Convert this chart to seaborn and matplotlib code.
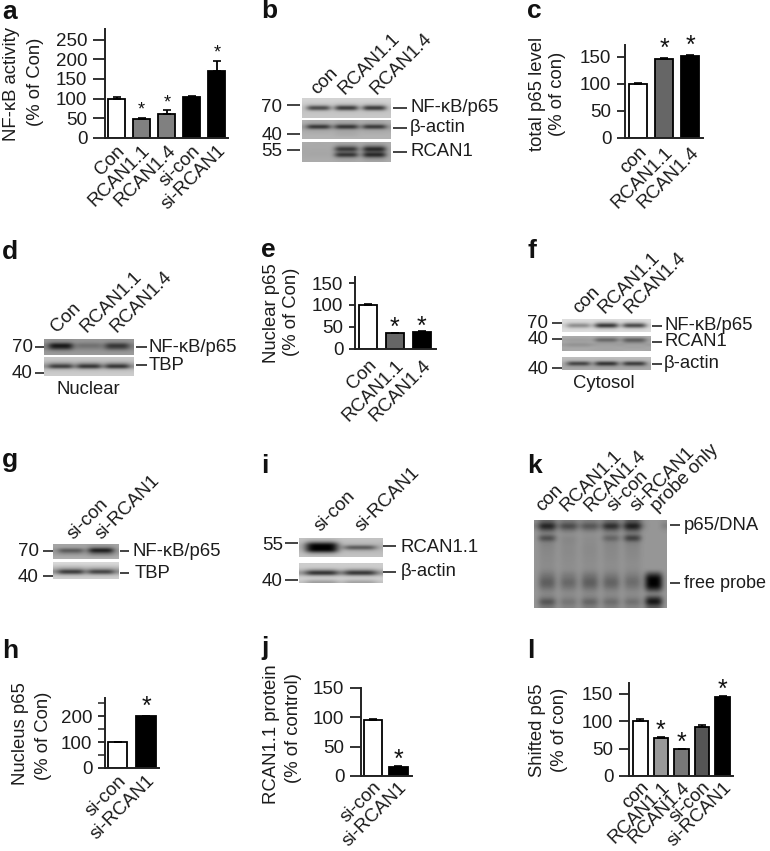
import matplotlib
matplotlib.use("Agg")
import matplotlib.pyplot as plt
import numpy as np
import pandas as pd
import seaborn as sns

W, H = 770, 851
TXT = "#1c1c1c"

# bar data
A_LABELS = ["Con", "RCAN1.1", "RCAN1.4", "si-con", "si-RCAN1"]
A_VALUES = [100, 49, 62, 105, 170]
A_ERR = [4, 2, 8, 1, 26]
A_COLORS = ["white", "#808080", "#808080", "black", "black"]
A_STARS = [1, 2, 4]

C_LABELS = ["con", "RCAN1.1", "RCAN1.4"]
C_VALUES = [100, 147, 152]
C_ERR = [2, 1, 2]
C_COLORS = ["white", "#666666", "black"]
C_STARS = [1, 2]

E_LABELS = ["Con", "RCAN1.1", "RCAN1.4"]
E_VALUES = [100, 35, 38]
E_ERR = [1, 1, 1]
E_COLORS = ["white", "#666666", "black"]
E_STARS = [1, 2]

H_LABELS = ["si-con", "si-RCAN1"]
H_VALUES = [100, 200]
H_ERR = [0, 1]
H_COLORS = ["white", "black"]
H_STARS = [1]

J_LABELS = ["si-con", "si-RCAN1"]
J_VALUES = [96, 16]
J_ERR = [2, 1]
J_COLORS = ["white", "black"]
J_STARS = [1]

L_LABELS = ["con", "RCAN1.1", "RCAN1.4", "si-con", "si-RCAN1"]
L_VALUES = [100, 69, 49, 90, 144]
L_ERR = [5, 3, 1, 3, 3]
L_COLORS = ["white", "#999999", "#777777", "#555555", "black"]
L_STARS = [1, 2, 4]

# blot strips: each row is [background, lane 1, lane 2, ...] in grey levels
B_P65 = [[212, 212, 212, 212], [208, 207, 207, 207], [200, 185, 175, 175], [196, 25, 5, 5],
         [196, 190, 185, 185], [198, 198, 198, 198], [200, 200, 200, 200]]
B_ACTIN = [[178, 172, 170, 172], [168, 155, 150, 155], [150, 10, 10, 15], [165, 160, 155, 160],
           [175, 172, 168, 172], [178, 178, 170, 178], [180, 180, 180, 180]]
B_RCAN = [[172, 170, 168, 168], [170, 170, 130, 120], [168, 168, 25, 10], [168, 167, 125, 105],
          [168, 166, 15, 5], [170, 170, 150, 135], [172, 172, 168, 165]]
D_P65 = [[150, 145, 150, 148], [148, 135, 145, 140], [125, 5, 105, 40], [130, 45, 125, 70],
         [148, 140, 148, 142], [155, 155, 155, 155]]
D_TBP = [[200, 200, 200, 200], [192, 190, 190, 190], [170, 140, 135, 135], [135, 20, 10, 10],
         [188, 185, 180, 180], [200, 200, 200, 200], [205, 205, 205, 205]]
F_P65 = [[222, 222, 222, 222], [218, 205, 175, 185], [205, 115, 5, 25], [218, 205, 180, 190],
         [222, 222, 222, 222]]
F_RCAN = [[175, 172, 168, 172], [160, 155, 80, 70], [170, 165, 150, 130], [150, 140, 160, 165],
          [170, 165, 165, 160], [165, 170, 165, 170]]
F_ACTIN = [[190, 190, 190, 190], [182, 178, 175, 178], [170, 25, 5, 15], [165, 155, 145, 150],
           [170, 170, 170, 170]]
G_P65 = [[165, 165, 160], [162, 158, 120], [150, 70, 0], [155, 125, 90], [165, 162, 145],
         [175, 175, 175]]
G_TBP = [[218, 218, 218], [200, 195, 198], [170, 150, 155], [130, 15, 25], [188, 178, 182],
         [208, 208, 208]]
I_RCAN = [[195, 190, 195], [190, 130, 190], [180, 0, 175], [175, 0, 55], [185, 0, 170],
          [190, 140, 190], [195, 192, 195]]
I_ACTIN = [[205, 205, 205], [205, 205, 205], [185, 150, 150], [140, 0, 5], [195, 185, 185],
           [215, 215, 215], [195, 155, 160]]
K_GEL = [[140, 100, 120, 125, 110, 90, 150],
         [120, 10, 55, 70, 20, 5, 150],
         [145, 90, 115, 120, 100, 85, 150],
         [150, 140, 145, 145, 140, 135, 150],
         [150, 55, 135, 140, 85, 35, 150],
         [150, 128, 135, 140, 132, 125, 150],
         [150, 133, 138, 138, 135, 133, 150],
         [150, 135, 138, 138, 136, 135, 150],
         [150, 136, 138, 138, 137, 136, 150],
         [150, 138, 140, 140, 138, 138, 150],
         [150, 138, 140, 140, 140, 140, 150],
         [150, 140, 142, 142, 141, 141, 150],
         [150, 135, 140, 138, 138, 138, 150],
         [150, 120, 125, 120, 125, 128, 70],
         [150, 105, 115, 105, 110, 115, 0],
         [150, 90, 100, 90, 95, 105, 0],
         [150, 100, 110, 100, 105, 115, 0],
         [150, 125, 130, 125, 128, 132, 70],
         [150, 138, 140, 138, 138, 140, 145],
         [150, 120, 132, 125, 128, 130, 60],
         [150, 70, 110, 90, 100, 105, 0],
         [150, 120, 132, 125, 128, 132, 90]]

sns.set_theme(style="white")
plt.rcParams["font.family"] = ["Liberation Sans", "DejaVu Sans"]
plt.rcParams["text.color"] = TXT

fig = plt.figure(figsize=(W / 100, H / 100), dpi=100)
fig.patch.set_facecolor("white")


def px_axes(x0, y0, x1, y1, **kw):
    return fig.add_axes([x0 / W, 1 - y1 / H, (x1 - x0) / W, (y1 - y0) / H], **kw)


over = px_axes(0, 0, W, H, zorder=10)
over.set_xlim(0, W)
over.set_ylim(H, 0)
over.axis("off")
over.patch.set_alpha(0)


def label(x, y, s, size=13.3, ha="left", rot=0):
    over.text(x, y, s, fontsize=size, ha=ha, va="center", rotation=rot, color=TXT)


def letter(x, y, s):
    over.text(x, y, s, fontsize=19, fontweight="bold", ha="left", va="baseline", color="#111111")


def dash(x0, x1, y):
    over.plot([x0, x1], [y, y], color="#222222", lw=1.2, solid_capstyle="butt")


def lanes(xs, y, names):
    for x, name in zip(xs, names):
        over.text(x, y, name, fontsize=13.5, rotation=45, rotation_mode="anchor",
                  ha="left", va="baseline", color=TXT)


def bars(box, ymax, xlim, labels, values, errs, colors, stars, yticks, star_gap, star_size=18,
         width=0.69, tick_len=8, minor=None, pad=3):
    ax = px_axes(*box)
    df = pd.DataFrame({"name": labels, "value": values})
    sns.barplot(data=df, x="name", y="value", hue="name", palette=colors, legend=False, ax=ax,
                order=labels, hue_order=labels, width=width, saturation=1, edgecolor="black",
                linewidth=1.3)
    pos = np.arange(len(labels))
    ax.errorbar(pos, values, yerr=[np.zeros(len(errs)), errs], fmt="none", ecolor="black",
                elinewidth=1.3, capsize=2.6, capthick=1.2)
    for i in stars:
        ax.annotate("*", xy=(i, values[i] + errs[i]), xytext=(0, star_gap), textcoords="offset points",
                    ha="center", va="center", fontsize=star_size, color="#111111")
    ax.set_xlim(*xlim)
    ax.set_ylim(0, ymax)
    ax.set_yticks(yticks)
    ax.set_xlabel("")
    ax.set_ylabel("")
    ax.patch.set_alpha(0)
    sns.despine(ax=ax)
    for side in ("left", "bottom"):
        ax.spines[side].set_linewidth(1.4)
        ax.spines[side].set_color("#222222")
    ax.set_xticks(pos, labels, rotation=45, ha="right", rotation_mode="anchor", fontsize=13.5, color=TXT)
    for tick in ax.get_xticklabels():
        tick.set_x(tick.get_position()[0])
    ax.tick_params(axis="x", length=0, pad=pad)
    ax.tick_params(axis="y", left=True, length=tick_len * 0.72, width=1.3, pad=4, labelsize=13.5,
                   color="#222222", labelcolor=TXT)
    if minor is not None:
        ax.set_yticks(minor, minor=True)
        ax.tick_params(axis="y", which="minor", left=True, length=tick_len * 0.72, width=1.1, color="#222222")
    return ax


def strip(box, rows, lane_units, gap_units=1):
    rows = np.asarray(rows, dtype=float)
    n = rows.shape[1] - 1
    cols = [rows[:, 0]]
    reps = [gap_units]
    for i in range(n):
        cols += [rows[:, i + 1], rows[:, 0]]
        reps += [lane_units, gap_units]
    mat = np.repeat(np.column_stack(cols), reps, axis=1)
    ax = px_axes(*box)
    ax.imshow(mat, cmap="gray", vmin=0, vmax=255, aspect="auto", interpolation="bicubic")
    ax.axis("off")


# panel a
bars((105, 29, 228, 138), 277, (-0.46, 4.44), A_LABELS, A_VALUES, A_ERR, A_COLORS, A_STARS,
     [0, 50, 100, 150, 200, 250], 5.5, star_size=13, width=0.68, tick_len=12, pad=3)
letter(2, 19, "a")
label(12, 84, "NF-κB activity", ha="center", rot=90)
label(35, 82, "(% of Con)", ha="center", rot=90)

# panel b
letter(261, 18, "b")
strip((302, 98, 391, 118), B_P65, 4)
strip((302, 120, 391, 139), B_ACTIN, 4)
strip((302, 142, 391, 162), B_RCAN, 4)
lanes([317, 344, 376], 95, C_LABELS)
for y_t, y_d, s in [(108, 105, "70"), (135, 134, "40"), (151, 150, "55")]:
    label(282, y_t, s, size=13.5, ha="right")
    dash(287, 300, y_d)
for y, s in [(108, "NF-κB/p65"), (128, "β-actin"), (152, "RCAN1")]:
    dash(393, 407, y)
    label(410, y, s)

# panel c
bars((625, 45, 703, 138), 172, (-0.5, 2.48), C_LABELS, C_VALUES, C_ERR, C_COLORS, C_STARS,
     [0, 50, 100, 150], 6.5, tick_len=8, pad=4)
letter(527, 18, "c")
label(537, 94, "total p65 level", ha="center", rot=90)
label(557, 94, "(% of con)", ha="center", rot=90)

# panel d
letter(2, 259, "d")
strip((44, 339, 134, 355), D_P65, 4)
strip((44, 357, 134, 376), D_TBP, 4)
lanes([57, 87, 117], 333, E_LABELS)
label(33, 347, "70", size=13.5, ha="right")
dash(35, 44, 347)
label(33, 374, "40", size=13.5, ha="right")
dash(35, 44, 373)
dash(136, 147, 347)
label(149, 347, "NF-κB/p65")
dash(136, 147, 365)
label(149, 365, "TBP")
label(88, 389, "Nuclear", ha="center")

# panel e
bars((355, 277, 436, 348.5), 164, (-0.48, 2.52), E_LABELS, E_VALUES, E_ERR, E_COLORS, E_STARS,
     [0, 50, 100, 150], 3.5, tick_len=6, pad=6)
letter(261, 257, "e")
label(271, 313, "Nuclear p65", ha="center", rot=90)
label(292, 312, "(% of Con)", ha="center", rot=90)

# panel f
letter(527, 258, "f")
strip((562, 319, 651, 332), F_P65, 4)
strip((562, 336, 651, 351), F_RCAN, 4)
strip((562, 357, 651, 370), F_ACTIN, 4)
lanes([579, 604, 630], 314, C_LABELS)
for y_d in [323, 339, 368]:
    dash(552, 562, y_d)
label(548, 323, "70", size=13.5, ha="right")
label(548, 340, "40", size=13.5, ha="right")
label(548, 369, "40", size=13.5, ha="right")
for y, s in [(326, "NF-κB/p65"), (342, "RCAN1"), (364, "β-actin")]:
    dash(652, 662, y)
    label(664, y, s)
label(604, 384, "Cytosol", ha="center")

# panel g
letter(2, 467, "g")
strip((53, 544, 119, 559), G_P65, 4)
strip((53, 562, 119, 579), G_TBP, 4)
lanes([74, 102], 540, H_LABELS)
label(39, 552, "70", size=13.5, ha="right")
dash(43, 53, 551)
label(39, 577, "40", size=13.5, ha="right")
dash(43, 53, 576)
dash(120, 129, 551)
label(133, 551, "NF-κB/p65")
dash(120, 129, 573)
label(135, 573, "TBP")

# panel i
letter(261, 473, "i")
strip((299, 538, 383, 557), I_RCAN, 4)
strip((299, 563, 383, 583), I_ACTIN, 4)
lanes([321, 362], 532, H_LABELS)
label(283, 545, "55", size=13.5, ha="right")
dash(285, 298, 543)
label(283, 582, "40", size=13.5, ha="right")
dash(285, 298, 580)
dash(383, 396, 546)
label(401, 547, "RCAN1.1")
dash(383, 396, 572)
label(401, 572, "β-actin")

# panel k
letter(527, 473, "k")
strip((534, 520, 667, 608), K_GEL, 3)
lanes([542, 567, 590, 614, 637, 657], 512,
      ["con", "RCAN1.1", "RCAN1.4", "si-con", "si-RCAN1", "probe only"])
dash(670, 680, 525)
label(684, 525, "p65/DNA")
dash(670, 680, 583)
label(684, 583, "free probe", size=13)

# panel h
bars((105, 698, 159, 768), 271, (-0.44, 1.45), H_LABELS, H_VALUES, H_ERR, H_COLORS, H_STARS,
     [0, 100, 200], 6.5, width=0.68, tick_len=7, minor=[50, 150, 250], pad=3)
letter(2, 658, "h")
label(21, 734, "Nucleus p65", ha="center", rot=90)
label(43, 736, "(% of Con)", ha="center", rot=90)

# panel j
bars((361, 688, 412, 776), 150, (-0.47, 1.53), J_LABELS, J_VALUES, J_ERR, J_COLORS, J_STARS,
     [0, 50, 100, 150], 4.5, width=0.72, tick_len=11, pad=2)
letter(261, 655, "j")
label(272, 734, "RCAN1.1 protein", ha="center", rot=90)
label(293, 728, "(% of control)", ha="center", rot=90)

# panel l
bars((629, 683, 733, 776), 170, (-0.55, 4.5), L_LABELS, L_VALUES, L_ERR, L_COLORS, L_STARS,
     [0, 50, 100, 150], 4, width=0.7, tick_len=10, pad=2)
letter(527, 658, "l")
label(537, 730, "Shifted p65", ha="center", rot=90)
label(560, 730, "(% of con)", ha="center", rot=90)

fig.savefig("out.png", dpi=100)
